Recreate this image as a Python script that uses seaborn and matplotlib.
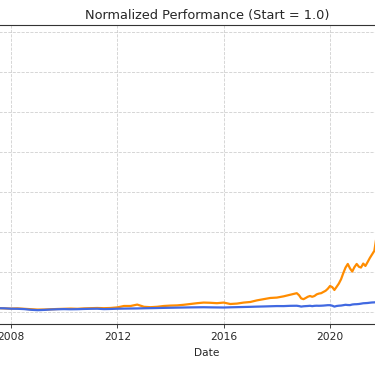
import pandas as pd
import matplotlib
matplotlib.use("Agg")
import matplotlib.pyplot as plt
import matplotlib.dates as mdates
import seaborn as sns

# quarterly points 2007-01 .. 2018-07, then monthly 2018-10 .. 2023-09
quarter_dates = pd.date_range("2007-01-01", "2018-07-01", freq="QS")
month_dates = pd.date_range("2018-10-01", "2023-09-01", freq="MS")

growth_quarterly = [
    1.0, 1.05, 1.1, 1.0,
    0.95, 1.0, 0.9, 0.8,
    0.7, 0.72, 0.78, 0.85,
    0.9, 0.95, 0.9, 1.0,
    1.05, 1.1, 1.05, 1.1,
    1.25, 1.6, 1.6, 1.95,
    1.4, 1.3, 1.4, 1.6,
    1.7, 1.75, 1.9, 2.1,
    2.3, 2.45, 2.4, 2.3,
    2.45, 2.1, 2.2, 2.45,
    2.6, 3.0, 3.3, 3.6,
    3.7, 4.0, 4.4,
]
growth_monthly = [
    4.8, 4.3, 3.5,
    3.3, 3.6, 3.9, 4.1, 3.9, 4.1, 4.5, 4.7, 4.8, 5.1, 5.4, 5.9,
    6.6, 6.3, 5.6, 6.4, 7.2, 8.3, 9.8, 11.2, 12.1, 11.0, 10.2, 11.3,
    12.1, 11.4, 11.2, 12.2, 11.6, 12.6, 13.6, 14.5, 15.4, 19.0, 24.0, 22.0,
    19.0, 18.0, 20.0, 15.0, 14.0, 11.0, 13.0, 11.0, 9.5, 10.0, 12.5, 11.0,
    14.0, 17.0, 20.0, 21.0, 29.0, 33.0, 35.0, 38.0, 36.0,
]
index_quarterly = [
    1.0, 1.03, 1.04, 1.02,
    0.92, 0.9, 0.82, 0.65,
    0.55, 0.62, 0.72, 0.78,
    0.82, 0.78, 0.8, 0.86,
    0.9, 0.92, 0.82, 0.86,
    0.92, 0.95, 0.97, 0.99,
    1.03, 1.06, 1.09, 1.13,
    1.16, 1.19, 1.22, 1.25,
    1.27, 1.29, 1.26, 1.24,
    1.22, 1.27, 1.31, 1.35,
    1.39, 1.44, 1.48, 1.53,
    1.58, 1.57, 1.64,
]
index_monthly = [
    1.66, 1.58, 1.45,
    1.53, 1.57, 1.6, 1.65, 1.56, 1.64, 1.67, 1.65, 1.67, 1.7, 1.75, 1.8,
    1.8, 1.67, 1.45, 1.6, 1.67, 1.71, 1.8, 1.9, 1.84, 1.82, 1.97, 2.03,
    2.05, 2.1, 2.18, 2.28, 2.31, 2.35, 2.42, 2.48, 2.5, 2.6, 2.58, 2.7,
    2.55, 2.48, 2.6, 2.35, 2.35, 2.15, 2.35, 2.25, 2.05, 2.2, 2.35, 2.2,
    2.35, 2.3, 2.4, 2.45, 2.45, 2.6, 2.7, 2.65, 2.55,
]

dates = quarter_dates.append(month_dates)
growth = growth_quarterly + growth_monthly
index = index_quarterly + index_monthly

sns.set_style("ticks")
plt.rcParams['font.family'] = ['DejaVu Sans']

fig = plt.figure(figsize=(3.75, 3.66), dpi=100)
# the axes runs past the left and right edges of the canvas
ax = fig.add_axes([-37.9 / 375, 42 / 366, 489.8 / 375, 299 / 366])

sns.lineplot(x=dates, y=growth, color="#ff8c00", linewidth=1.6, ax=ax)
sns.lineplot(x=dates, y=index, color="#4169e1", linewidth=1.6, ax=ax)

ax.set_xlim(pd.Timestamp("2006-03-01"), pd.Timestamp("2024-08-01"))
ax.set_ylim(-2.9, 71.8)
ax.set_yticks(range(0, 80, 10))
ax.xaxis.set_major_locator(mdates.YearLocator(4))
ax.xaxis.set_major_formatter(mdates.DateFormatter("%Y"))
ax.tick_params(labelsize=7.7, length=2.7, width=0.6, pad=2.7)
for s in ax.spines.values():
    s.set_linewidth(0.8)
    s.set_color("#333333")
ax.grid(True, linestyle="--", color="#b0b0b0", alpha=0.6, linewidth=0.6)
ax.set_title("Normalized Performance (Start = 1.0)", fontsize=9.3, pad=4.6)
ax.set_xlabel("Date", fontsize=7.7, labelpad=5)
ax.set_ylabel("")

fig.savefig("out.png", dpi=100)
